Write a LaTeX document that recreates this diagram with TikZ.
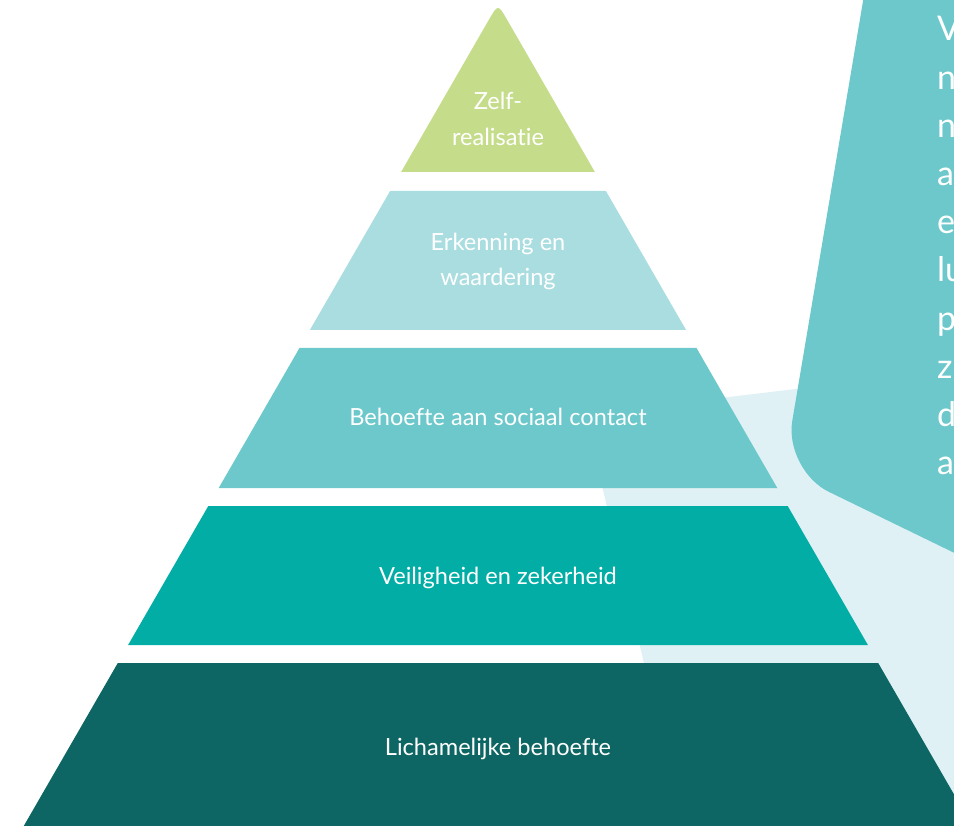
\documentclass[tikz,border=0pt]{standalone}
\usepackage{fontspec}
\setmainfont[Ligatures=NoCommon]{Lato}

\definecolor{groen}{HTML}{C5DD8A}
\definecolor{lichtblauw}{HTML}{AADDE0}
\definecolor{turkoois}{HTML}{6CC8CB}
\definecolor{zeegroen}{HTML}{02ADA6}
\definecolor{donkergroen}{HTML}{0D6663}
\definecolor{waas}{HTML}{DFF1F4}

\tikzset{
  laag/.style={text=white, font=\fontsize{23.6}{35.5}\selectfont, align=center},
  kant/.style={text=white, font=\fontsize{34}{48}\selectfont, anchor=base west, inner sep=0pt}
}

\begin{document}
\begin{tikzpicture}[x=1pt, y=-1pt]
  \useasboundingbox (0,0) rectangle (954,826);
  \clip (0,0) rectangle (954,826);

  % pale backdrop behind the right side
  \fill[waas, rounded corners=60pt] (585,414) -- (990,366) -- (990,900) -- (700,900) -- cycle;

  % callout block with the cut-off text
  \fill[turkoois, rounded corners=50pt] (875,-70) -- (784,470) -- (1010,580) -- (1010,-70) -- cycle;
  \node[kant] (r1) at (937,41) {V};
  \node[kant] (r2) at (937,89.2) {n};
  \node[kant] (r3) at (937,137.4) {n};
  \node[kant] (r4) at (937,185.6) {a};
  \node[kant] (r5) at (937,233.8) {e};
  \node[kant] (r6) at (937,282) {lu};
  \node[kant] (r7) at (937,330.2) {p};
  \node[kant] (r8) at (937,378.4) {z};
  \node[kant] (r9) at (937,426.6) {d};
  \node[kant] (r10) at (937,474.8) {a};

  % the five layers, top to bottom
  \fill[groen] (401.1,172) -- (488.75,20) .. controls (498,4) .. (507.25,20) -- (594.9,172) -- cycle;
  \fill[lichtblauw] (390.1,191) -- (605.9,191) -- (686.1,330) -- (309.9,330) -- cycle;
  \fill[turkoois] (299.5,348) -- (696.5,348) -- (777.3,488) -- (218.7,488) -- cycle;
  \fill[zeegroen] (208.3,506) -- (787.7,506) -- (867.9,645) -- (128.1,645) -- cycle;
  \fill[donkergroen] (117.8,663) -- (878.2,663) -- (983.8,846) -- (12.2,846) -- cycle;

  \node[laag] (zelf) at (498,119) {Zelf-\\realisatie};
  \node[laag] (erkenning) at (498,261.5) {Erkenning en\\waardering};
  \node[laag, anchor=base] (sociaal) at (498,426) {Behoefte aan sociaal contact};
  \node[laag, anchor=base] (veilig) at (498,584) {Veiligheid en zekerheid};
  \node[laag, anchor=base] (lichaam) at (498,755) {Lichamelijke behoefte};
\end{tikzpicture}
\end{document}
